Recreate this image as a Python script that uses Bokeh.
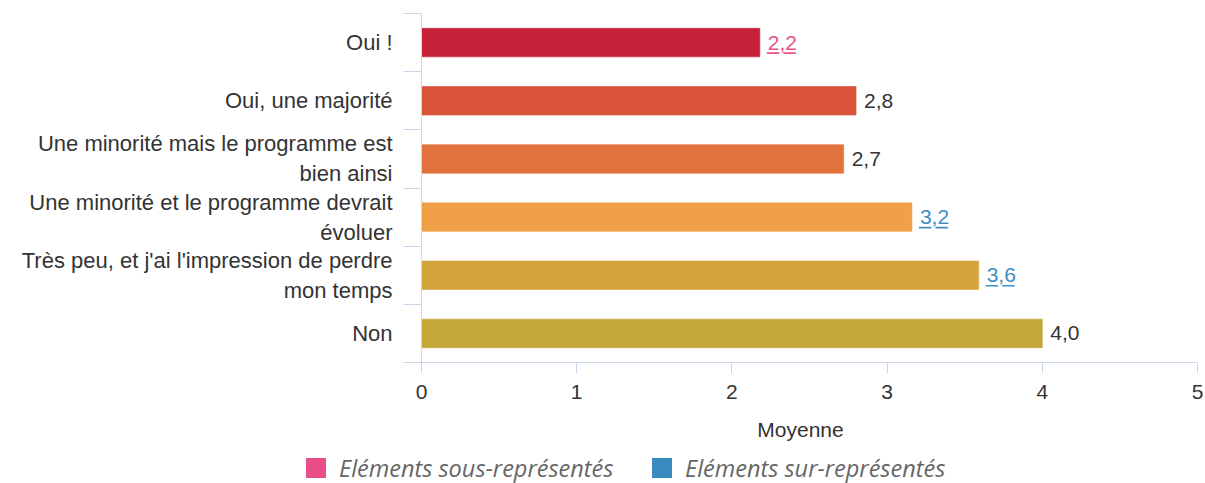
from bokeh.plotting import figure
from bokeh.layouts import column
from bokeh.models import (Range1d, FixedTicker, Span, ColumnDataSource, Div)
from bokeh.embed import file_html
from bokeh.resources import INLINE

# ---------------- data ----------------
categories = [
    "Oui !",
    "Oui, une majorité",
    "Une minorité mais le programme est\nbien ainsi",
    "Une minorité et le programme devrait\névoluer",
    "Très peu, et j'ai l'impression de perdre\nmon temps",
    "Non",
]
values = [2.18, 2.80, 2.72, 3.16, 3.59, 4.00]
bar_colors = ["#c8213a", "#d9533b", "#e3733e", "#f0a046", "#d5a43d", "#c3a838"]
# representation flag: -1 under-represented, 1 over-represented, 0 neutral
flags = [-1, 0, 0, 1, 1, 0]
x_ticks = [0, 1, 2, 3, 4, 5]
x_title = "Moyenne"
legend_labels = ["Eléments sous-représentés", "Eléments sur-représentés"]
legend_colors = ["#ea4c89", "#3a8cbf"]
label_colors = {-1: "#e9538a", 0: "#333333", 1: "#3d8fc4"}

# ---------------- layout constants ----------------
W, H = 1205, 446
LEG_H = 35
BL, BR, BT, BB = 403, 8, 13, H - 362
frame_w = W - BL - BR
frame_h = H - BT - BB
x_end = 5
x_start = -18.0 / ((frame_w - 18.0) / x_end)
px_per_x = frame_w / (x_end - x_start)
n = len(categories)
px_per_y = frame_h / n

FONT = "Liberation Sans"
AXIS_C = "#ccd6eb"

p = figure(width=W, height=H, output_backend="svg", toolbar_location=None,
           x_range=Range1d(x_start, x_end), y_range=Range1d(0, n),
           min_border_left=BL, min_border_right=BR, min_border_top=BT,
           min_border_bottom=BB, tools="")
p.outline_line_color = None
p.xgrid.visible = False
p.ygrid.visible = False

ys = [n - i - 0.5 for i in range(n)]
src = ColumnDataSource(dict(y=ys, v=values, c=bar_colors,
                            lab=[f"{v:.1f}".replace(".", ",") for v in values],
                            tc=[label_colors[f] for f in flags]))
p.hbar(y="y", left=0, right="v", height=0.49, fill_color="c", line_color="c",
       line_alpha=0.6, source=src)

p.text(x="v", y="y", text="lab", text_color="tc", x_offset=8,
       text_baseline="middle", text_align="left", text_font_size="21px",
       text_font={"value": FONT}, source=src)

# underline for flagged labels (two segments, broken at the comma)
ux0, ux1, uy, uc = [], [], [], []
for v, y, f in zip(values, ys, flags):
    if f != 0:
        for a, b in [(7, 19.5), (23.5, 36)]:
            ux0.append(v + a / px_per_x)
            ux1.append(v + b / px_per_x)
            uy.append(y - 10.5 / px_per_y)
            uc.append(label_colors[f])
p.segment(x0=ux0, x1=ux1, y0=uy, y1=uy, line_color=uc, line_width=1.6)

# y axis line at x = 0
p.add_layout(Span(location=0, dimension="height", line_color=AXIS_C, line_width=1))

# y axis
ya = p.yaxis[0]
ya.ticker = FixedTicker(ticks=ys, minor_ticks=list(range(n + 1)))
ya.major_label_overrides = {y: c for y, c in zip(ys, categories)}
ya.axis_line_color = None
ya.major_tick_line_color = None
ya.major_tick_in = 0
ya.major_tick_out = 0
ya.minor_tick_line_color = AXIS_C
ya.minor_tick_in = 18
ya.minor_tick_out = 0
ya.major_label_standoff = 11
ya.major_label_text_font = FONT
ya.major_label_text_font_size = "22px"
ya.major_label_text_color = "#333333"

# x axis
xa = p.xaxis[0]
xa.ticker = FixedTicker(ticks=x_ticks, minor_ticks=[])
xa.axis_line_color = AXIS_C
xa.major_tick_line_color = AXIS_C
xa.major_tick_in = 0
xa.major_tick_out = 11
xa.major_label_standoff = 11
xa.major_label_text_font = FONT
xa.major_label_text_font_size = "21px"
xa.major_label_text_color = "#333333"
xa.axis_label = x_title
xa.axis_label_text_font = FONT
xa.axis_label_text_font_size = "21px"
xa.axis_label_text_font_style = "normal"
xa.axis_label_text_color = "#333333"
xa.axis_label_standoff = 16

# legend as an HTML strip below the chart
leg_x = [306, 652]
parts = []
for lab, col, x0 in zip(legend_labels, legend_colors, leg_x):
    parts.append(
        f'<span style="position:absolute;left:{x0}px;top:12px;width:20px;height:20px;'
        f'background:{col};"></span>'
        f'<span style="position:absolute;left:{x0 + 33}px;top:7px;'
        f'font-family:\'Open Sans\';font-style:italic;font-size:23.5px;line-height:30px;'
        f'color:#666666;white-space:nowrap;">{lab}</span>'
    )
div = Div(text='<div style="position:relative;width:%dpx;height:%dpx;">%s</div>'
          % (W, LEG_H, "".join(parts)), width=W, height=LEG_H,
          styles={"margin": "0", "padding": "0"})

layout = column(p, div, spacing=0)
open("out.html", "w").write(file_html(layout, INLINE))
